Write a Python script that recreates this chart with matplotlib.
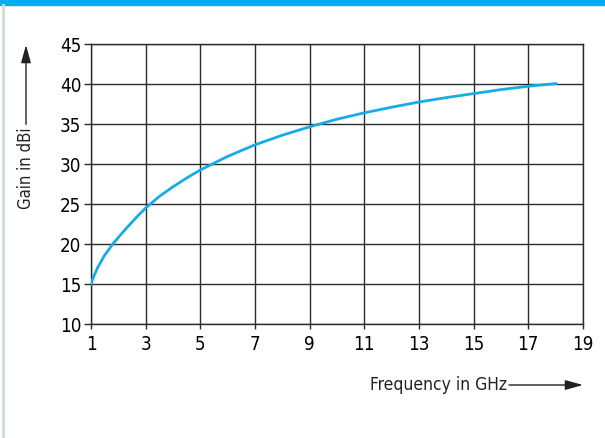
import numpy as np
import matplotlib
matplotlib.use('Agg')
import matplotlib.pyplot as plt
from matplotlib.patches import Rectangle, FancyArrowPatch
from matplotlib.lines import Line2D

# Values
freq = [1, 1.1, 1.25, 1.5, 1.82, 2.3, 2.75, 3, 3.5, 4, 4.5, 5, 6, 7, 8, 9, 10, 11, 12, 13, 14,
        15, 16, 17, 18]
gain = [15, 15.95, 17.1, 18.6, 20.1, 22.0, 23.65, 24.5, 25.95, 27.15, 28.25, 29.25, 30.95, 32.4,
        33.6, 34.65, 35.6, 36.4, 37.1, 37.75, 38.3, 38.8, 39.3, 39.72, 40.05]

x_ticks = [1, 3, 5, 7, 9, 11, 13, 15, 17, 19]
y_ticks = [10, 15, 20, 25, 30, 35, 40, 45]

plt.rcParams['font.family'] = ['DejaVu Sans']
plt.rcParams['font.stretch'] = 'condensed'

W, H = 605, 439
fig = plt.figure(figsize=(W / 100, H / 100), dpi=100)
fig.patch.set_facecolor('white')

# blue banner at the top and grey edge on the left
fig.patches.append(Rectangle((0, 1 - 6 / H), 1, 6 / H, transform=fig.transFigure,
                             color='#00AEEF', zorder=0))
fig.lines.append(Line2D([2.5 / W, 2.5 / W], [0, 1 - 6 / H], transform=fig.transFigure,
                        color='#d3d8de', lw=2))

ax = fig.add_axes([91 / W, 1 - 325 / H, (583 - 91) / W, (325 - 45) / H])
ax.plot(freq, gain, color='#17ACE8', lw=2.0, solid_joinstyle='round', zorder=3)

ax.set_xlim(1, 19)
ax.set_ylim(10, 45)
ax.set_xticks(x_ticks)
ax.set_yticks(y_ticks)
ax.grid(True, color='#2b2b2b', lw=1.0)
for s in ax.spines.values():
    s.set_color('#2b2b2b')
    s.set_linewidth(1.0)
ax.tick_params(axis='y', length=5, width=1, color='#2b2b2b', labelsize=13.5, pad=2)
ax.tick_params(axis='x', length=3.5, width=1, color='#2b2b2b', labelsize=13.5, pad=4)

# axis labels with arrows
ylab = fig.text(26 / W, 1 - 168 / H, 'Gain in dBi', rotation=90, ha='center', va='center',
                fontsize=12, color='#222222')
xlab = fig.text(370 / W, 1 - 385 / H, 'Frequency in GHz', ha='left', va='center',
                fontsize=12.5, color='#222222')
fig.canvas.draw()
r = fig.canvas.get_renderer()
yb = ylab.get_window_extent(r)
xb = xlab.get_window_extent(r)
arrow = dict(arrowstyle='-|>,head_length=0.9,head_width=0.25', color='#222222', lw=1.0,
             mutation_scale=12, shrinkA=0, shrinkB=0)
fig.add_artist(FancyArrowPatch((26 / W, (yb.y1 + 2) / H), (26 / W, 1 - 46 / H),
                               transform=fig.transFigure, **arrow))
fig.add_artist(FancyArrowPatch(((xb.x1 + 2) / W, 1 - 386 / H), (583 / W, 1 - 386 / H),
                               transform=fig.transFigure, **arrow))

fig.savefig('out.png', dpi=100)
